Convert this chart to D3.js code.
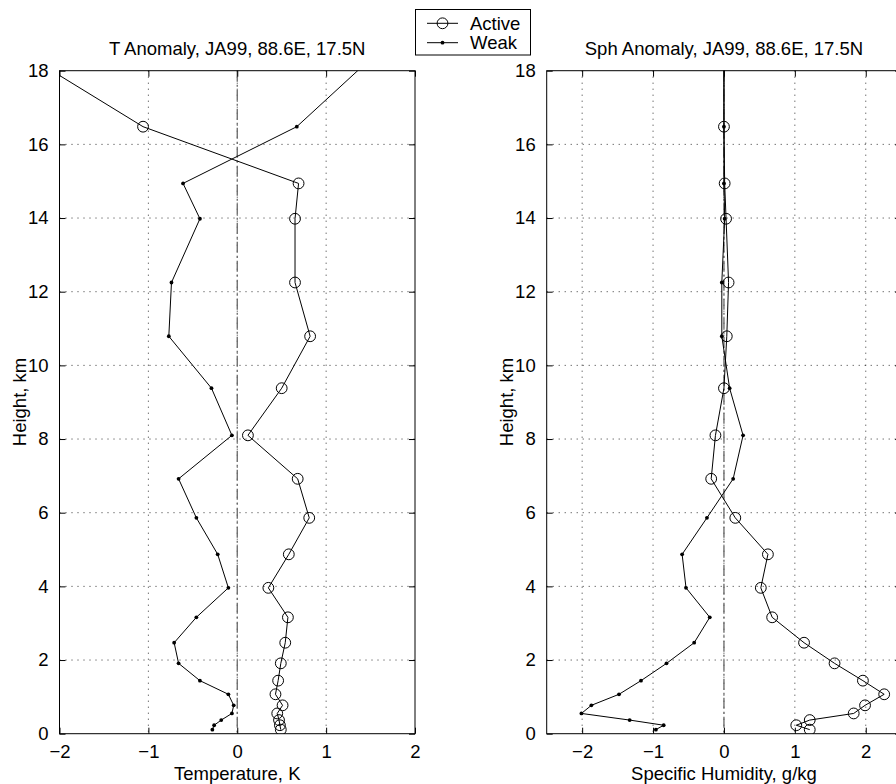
<!DOCTYPE html>
<html lang="en">
<head>
  <meta charset="UTF-8">
  <title>T and Sph Anomaly, JA99</title>
  <style>
    body { margin: 0; background: #fff; }
    svg text { font-family: "Liberation Sans", Arial, Helvetica, sans-serif; fill: #000; }
  </style>
</head>
<body>
  <svg id="svg" width="896" height="784"></svg>
  <script src="https://d3js.org/d3.v7.min.js"></script>
  <script>
    // heights of the levels (km), bottom to top
    const heights = [0.11, 0.23, 0.37, 0.55, 0.77, 1.07, 1.44, 1.91, 2.47, 3.16, 3.96,
      4.87, 5.86, 6.92, 8.1, 9.38, 10.79, 12.25, 13.98, 14.94, 16.48, 18.3]

    // temperature anomaly, K
    const tActive = [0.49, 0.48, 0.47, 0.45, 0.51, 0.43, 0.46, 0.49, 0.54, 0.57, 0.35,
      0.58, 0.81, 0.68, 0.12, 0.50, 0.82, 0.65, 0.65, 0.69, -1.06, -2.29]
    const tWeak = [-0.28, -0.26, -0.18, -0.06, -0.04, -0.10, -0.42, -0.66, -0.71, -0.46, -0.10,
      -0.22, -0.46, -0.66, -0.06, -0.29, -0.77, -0.74, -0.42, -0.61, 0.67, 1.49]

    // specific humidity anomaly, g/kg
    const qActive = [1.21, 1.02, 1.21, 1.83, 1.99, 2.26, 1.96, 1.56, 1.13, 0.68, 0.52,
      0.62, 0.16, -0.18, -0.12, 0.0, 0.04, 0.065, 0.03, 0.01, 0.0, 0.0]
    const qWeak = [-0.96, -0.85, -1.33, -2.01, -1.87, -1.48, -1.17, -0.81, -0.42, -0.20, -0.535,
      -0.59, -0.24, 0.13, 0.27, 0.08, -0.03, -0.03, 0.01, 0.0, 0.0, 0.0]

    const yTicks = [0, 2, 4, 6, 8, 10, 12, 14, 16, 18]
    const tTicks = [-2, -1, 0, 1, 2]
    const qTicks = [-2, -1, 0, 1, 2]

    const svg = d3.select('#svg')
    const plotTop = 70.7, plotBottom = 733.7
    const fontSize = '18.5px'

    function drawPanel(opts) {
      const { id, x0, x1, domain, xTicks, title, xLabel, active, weak } = opts
      const x = d3.scaleLinear().domain(domain).range([x0, x1])
      const y = d3.scaleLinear().domain([0, 18]).range([plotBottom, plotTop])
      const g = svg.append('g')

      svg.append('clipPath').attr('id', id)
        .append('rect')
        .attr('x', x0).attr('y', plotTop)
        .attr('width', x1 - x0).attr('height', plotBottom - plotTop)

      // dotted grid
      const grid = g.append('g')
        .attr('stroke', '#000')
        .attr('stroke-width', 0.8)
        .attr('stroke-dasharray', '1,5')
      grid.selectAll('.gx')
        .data(xTicks.filter(d => d > domain[0] && d < domain[1]))
        .enter().append('line')
        .attr('x1', d => x(d)).attr('x2', d => x(d))
        .attr('y1', plotTop).attr('y2', plotBottom)
      grid.selectAll('.gy')
        .data(yTicks.filter(d => d > 0 && d < 18))
        .enter().append('line')
        .attr('x1', x0).attr('x2', x1)
        .attr('y1', d => y(d)).attr('y2', d => y(d))

      // zero line, dash-dot
      g.append('line')
        .attr('x1', x(0)).attr('x2', x(0))
        .attr('y1', plotTop).attr('y2', plotBottom)
        .attr('stroke', '#666')
        .attr('stroke-width', 1.3)
        .attr('stroke-dasharray', '11,3,2,3')

      // axes with inward ticks
      const bottomAxis = g.append('g')
        .attr('transform', `translate(0, ${plotBottom})`)
        .call(d3.axisBottom(x).tickValues(xTicks).tickSizeInner(-6).tickSizeOuter(0)
          .tickPadding(11).tickFormat(d => d < 0 ? '\u2212' + Math.abs(d) : d))
      bottomAxis.selectAll('text').style('font-size', fontSize)
      g.append('g')
        .attr('transform', `translate(0, ${plotTop})`)
        .call(d3.axisTop(x).tickValues(xTicks).tickSizeInner(-6).tickSizeOuter(0).tickFormat(''))
      const leftAxis = g.append('g')
        .attr('transform', `translate(${x0}, 0)`)
        .call(d3.axisLeft(y).tickValues(yTicks).tickSizeInner(-6).tickSizeOuter(0).tickPadding(11))
      leftAxis.selectAll('text').style('font-size', fontSize)
      g.append('g')
        .attr('transform', `translate(${x1}, 0)`)
        .call(d3.axisRight(y).tickValues(yTicks).tickSizeInner(-6).tickSizeOuter(0).tickFormat(''))
      g.selectAll('.domain').remove()
      g.selectAll('.tick line').attr('stroke', '#000')

      g.append('rect')
        .attr('x', x0).attr('y', plotTop)
        .attr('width', x1 - x0).attr('height', plotBottom - plotTop)
        .attr('fill', 'none').attr('stroke', '#000').attr('stroke-width', 1)

      // data
      const plot = g.append('g').attr('clip-path', `url(#${id})`)
      const line = d3.line().x(d => x(d.v)).y(d => y(d.h))
      const weakData = weak.map((v, i) => ({ v: v, h: heights[i] }))
      const activeData = active.map((v, i) => ({ v: v, h: heights[i] }))

      plot.append('path').datum(weakData)
        .attr('d', line).attr('fill', 'none').attr('stroke', '#000').attr('stroke-width', 1)
      plot.selectAll('.dot').data(weakData.filter(d => d.h < 18))
        .enter().append('circle')
        .attr('cx', d => x(d.v)).attr('cy', d => y(d.h))
        .attr('r', 1.9).attr('fill', '#000')

      plot.append('path').datum(activeData)
        .attr('d', line).attr('fill', 'none').attr('stroke', '#000').attr('stroke-width', 1)
      plot.selectAll('.ring').data(activeData.filter(d => d.h < 18))
        .enter().append('circle')
        .attr('cx', d => x(d.v)).attr('cy', d => y(d.h))
        .attr('r', 5.4).attr('fill', 'none').attr('stroke', '#000').attr('stroke-width', 1)

      // labels
      const mid = (x0 + x1) / 2
      g.append('text')
        .attr('x', mid).attr('y', 55)
        .attr('text-anchor', 'middle')
        .style('font-size', fontSize)
        .text(title)
      g.append('text')
        .attr('x', mid).attr('y', 780)
        .attr('text-anchor', 'middle')
        .style('font-size', fontSize)
        .text(xLabel)
      g.append('text')
        .attr('transform', `translate(${x0 - 34}, 402) rotate(-90)`)
        .attr('text-anchor', 'middle')
        .style('font-size', fontSize)
        .text('Height, km')
    }

    drawPanel({
      id: 'clipT', x0: 59.5, x1: 415, domain: [-2, 2], xTicks: tTicks,
      title: 'T Anomaly, JA99, 88.6E, 17.5N', xLabel: 'Temperature, K',
      active: tActive, weak: tWeak
    })
    drawPanel({
      id: 'clipQ', x0: 546.7, x1: 901.2, domain: [-2.5, 2.5], xTicks: qTicks,
      title: 'Sph Anomaly, JA99, 88.6E, 17.5N', xLabel: 'Specific Humidity, g/kg',
      active: qActive, weak: qWeak
    })

    // legend
    const legend = svg.append('g')
    legend.append('rect')
      .attr('x', 415.5).attr('y', 9.5).attr('width', 115).attr('height', 45.5)
      .attr('fill', '#fff').attr('stroke', '#000').attr('stroke-width', 1)
    const items = [{ name: 'Active', y: 23.3 }, { name: 'Weak', y: 42.7 }]
    items.forEach(item => {
      legend.append('line')
        .attr('x1', 427).attr('x2', 458).attr('y1', item.y).attr('y2', item.y)
        .attr('stroke', '#000').attr('stroke-width', 1)
      if (item.name === 'Active') {
        legend.append('circle').attr('cx', 442.5).attr('cy', item.y).attr('r', 5.4)
          .attr('fill', 'none').attr('stroke', '#000')
      } else {
        legend.append('circle').attr('cx', 442.5).attr('cy', item.y).attr('r', 1.9)
          .attr('fill', '#000')
      }
      legend.append('text')
        .attr('x', 470).attr('y', item.y + 6.5)
        .style('font-size', fontSize)
        .text(item.name)
    })
  </script>
</body>
</html>
